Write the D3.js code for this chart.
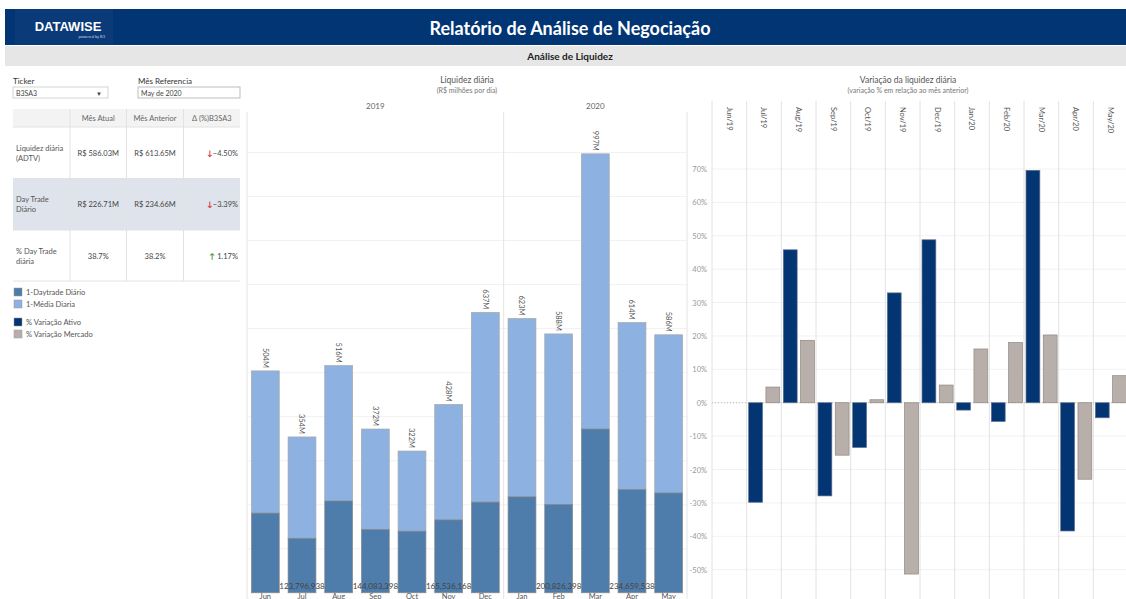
<!DOCTYPE html>
<html>
<head>
<meta charset="utf-8">
<script src="https://cdn.jsdelivr.net/npm/d3@7"></script>
<style>
  body { margin: 0; background: #fff; }
  svg text { font-family: Lato, "Open Sans", sans-serif; }
</style>
</head>
<body>
<div id="board"></div>
<script>
// chart data
const months = ["Jun", "Jul", "Aug", "Sep", "Oct", "Nov", "Dec", "Jan", "Feb", "Mar", "Apr", "May"]
const years = [2019, 2019, 2019, 2019, 2019, 2019, 2019, 2020, 2020, 2020, 2020, 2020]
const yearLabels = ["2019", "2020"]
const mediaDiaria = [504e6, 354e6, 516e6, 372e6, 322e6, 428e6, 637e6, 623e6, 588e6, 997e6, 614e6, 586.03e6]
const dayTrade = [181e6, 123796938, 208.5e6, 144083398, 140e6, 165536168, 206e6, 218e6, 200826398, 372e6, 234659538, 226.71e6]
const varLabels = ["Jun/19", "Jul/19", "Aug/19", "Sep/19", "Oct/19", "Nov/19", "Dec/19", "Jan/20", "Feb/20", "Mar/20", "Apr/20", "May/20"]
const varAtivo = [null, -29.8, 45.8, -27.9, -13.4, 32.9, 48.8, -2.2, -5.6, 69.6, -38.4, -4.5]
const varMercado = [null, 4.7, 18.7, -15.7, 0.9, -51.3, 5.3, 16.1, 18.0, 20.3, -22.9, 8.1]
const pctTicks = [-60, -50, -40, -30, -20, -10, 0, 10, 20, 30, 40, 50, 60, 70]
const liqTicks = [100, 200, 300, 400, 500, 600, 700, 800, 900, 1000]

const tableHead = ["Mês Atual", "Mês Anterior", "Δ (%)B3SA3"]
const tableRows = [
    { label: ["Liquidez diária", "(ADTV)"], atual: "R$ 586.03M", anterior: "R$ 613.65M", delta: -4.50 },
    { label: ["Day Trade", "Diário"], atual: "R$ 226.71M", anterior: "R$ 234.66M", delta: -3.39 },
    { label: ["% Day Trade", "diária"], atual: "38.7%", anterior: "38.2%", delta: 1.17 }
]
const legendItems = [
    { name: "1-Daytrade Diário", color: "#4e7cab" },
    { name: "1-Média Diaria", color: "#8db1e0" },
    { name: "% Variação Ativo", color: "#033572" },
    { name: "% Variação Mercado", color: "#b8afaa" }
]

const board = d3.select("#board")
    .append("svg")
    .attr("width", 1126)
    .attr("height", 599)

// ---- header banners
board.append("rect")
    .attr("x", 5).attr("y", 9).attr("width", 1121).attr("height", 36)
    .attr("fill", "#023574")
board.append("rect")
    .attr("x", 15).attr("y", 9).attr("width", 98).attr("height", 36)
    .attr("fill", "#0a3a78")
board.append("text")
    .attr("x", 68).attr("y", 31)
    .attr("text-anchor", "middle")
    .style("font-family", "'Liberation Sans', Arial, sans-serif")
    .style("font-weight", "bold")
    .style("font-size", "13px")
    .attr("fill", "#fff")
    .text("DATAWISE")
board.append("text")
    .attr("x", 105).attr("y", 38)
    .attr("text-anchor", "end")
    .style("font-size", "4px")
    .attr("fill", "#c8d3e6")
    .text("powered by B3")
board.append("text")
    .attr("x", 570).attr("y", 35)
    .attr("text-anchor", "middle")
    .style("font-weight", "bold")
    .style("font-size", "18px")
    .attr("fill", "#fff")
    .text("Relatório de Análise de Negociação")

board.append("rect")
    .attr("x", 5).attr("y", 46).attr("width", 1121).attr("height", 20)
    .attr("fill", "#e6e6e6")
board.append("text")
    .attr("x", 570).attr("y", 60)
    .attr("text-anchor", "middle")
    .style("font-weight", "bold")
    .style("font-size", "10px")
    .attr("fill", "#222")
    .text("Análise de Liquidez")

// ---- filters
board.append("text").attr("x", 13).attr("y", 84)
    .style("font-size", "8px").attr("fill", "#333").text("Ticker")
board.append("rect").attr("x", 13).attr("y", 87).attr("width", 95).attr("height", 11)
    .attr("fill", "#fff").attr("stroke", "#d4d4d4")
board.append("text").attr("x", 16).attr("y", 95.5)
    .style("font-size", "7px").attr("fill", "#444").text("B3SA3")
board.append("text").attr("x", 99).attr("y", 95.5).attr("text-anchor", "middle")
    .style("font-size", "6px").attr("fill", "#444").text("▼")

board.append("text").attr("x", 138).attr("y", 84)
    .style("font-size", "8px").attr("fill", "#333").text("Mês Referencia")
board.append("rect").attr("x", 138).attr("y", 87).attr("width", 102).attr("height", 11)
    .attr("fill", "#fff").attr("stroke", "#bdbdbd")
board.append("text").attr("x", 141).attr("y", 95.5)
    .style("font-size", "7px").attr("fill", "#444").text("May de 2020")

// ---- KPI table
const colX = [13, 70, 126.5, 183.5, 240]
const rowY = [109, 127, 178.5, 230, 281]

board.append("rect").attr("x", 13).attr("y", rowY[0]).attr("width", 227).attr("height", rowY[1] - rowY[0])
    .attr("fill", "#f3f3f3")
board.append("rect").attr("x", 13).attr("y", rowY[2]).attr("width", 227).attr("height", rowY[3] - rowY[2])
    .attr("fill", "#dfe3ec")

for (let i = 1; i < colX.length - 1; i++) {
    board.append("line")
        .attr("x1", colX[i]).attr("x2", colX[i])
        .attr("y1", rowY[0]).attr("y2", rowY[4])
        .attr("stroke", "#e2e2e2")
}
for (let j = 1; j < rowY.length; j++) {
    board.append("line")
        .attr("x1", 13).attr("x2", 240)
        .attr("y1", rowY[j]).attr("y2", rowY[j])
        .attr("stroke", "#e2e2e2")
}

tableHead.forEach((h, i) => {
    board.append("text")
        .attr("x", (colX[i + 1] + colX[i + 2]) / 2).attr("y", rowY[0] + 12)
        .attr("text-anchor", "middle")
        .style("font-size", "7.5px").attr("fill", "#666")
        .text(h)
})

tableRows.forEach((r, i) => {
    const mid = (rowY[i + 1] + rowY[i + 2]) / 2
    r.label.forEach((l, k) => {
        board.append("text")
            .attr("x", 16).attr("y", mid - 2 + k * 10)
            .style("font-size", "7.5px").attr("fill", "#555")
            .text(l)
    })
    board.append("text")
        .attr("x", (colX[1] + colX[2]) / 2).attr("y", mid + 3)
        .attr("text-anchor", "middle")
        .style("font-size", "7.5px").attr("fill", "#444")
        .text(r.atual)
    board.append("text")
        .attr("x", (colX[2] + colX[3]) / 2).attr("y", mid + 3)
        .attr("text-anchor", "middle")
        .style("font-size", "7.5px").attr("fill", "#444")
        .text(r.anterior)
    const dt = board.append("text")
        .attr("x", 238).attr("y", mid + 3)
        .attr("text-anchor", "end")
        .style("font-size", "7.5px").attr("fill", "#444")
    dt.append("tspan")
        .attr("fill", r.delta < 0 ? "#d62728" : "#3a8a2e")
        .style("font-weight", "bold")
        .text(r.delta < 0 ? "↓" : "↑")
    dt.append("tspan")
        .text((r.delta < 0 ? "" : " ") + d3.format(".2f")(r.delta) + "%")
})

// ---- legend
legendItems.forEach((d, i) => {
    const y = 288 + i * 12 + (i > 1 ? 6 : 0)
    board.append("rect")
        .attr("x", 14).attr("y", y).attr("width", 8).attr("height", 8)
        .attr("fill", d.color).attr("stroke", "#999").attr("stroke-width", 0.5)
    board.append("text")
        .attr("x", 26).attr("y", y + 7)
        .style("font-size", "7.5px").attr("fill", "#555")
        .text(d.name)
})

// ---- Liquidez diária (stacked bars)
const liqLeft = 247, liqRight = 687, liqTop = 112
const x = d3.scaleBand()
    .domain(months.map((m, i) => i))
    .range([liqLeft, liqRight])
    .paddingInner(0.24)
    .paddingOuter(0.12)
const y = d3.scaleLinear()
    .domain([0, 1092])
    .range([592.8, liqTop])

board.append("text").attr("x", 467).attr("y", 83).attr("text-anchor", "middle")
    .style("font-size", "8.5px").attr("fill", "#555").text("Liquidez diária")
board.append("text").attr("x", 467).attr("y", 93).attr("text-anchor", "middle")
    .style("font-size", "7px").attr("fill", "#777").text("(R$ milhões por dia)")

board.append("g")
    .selectAll("line")
    .data(liqTicks)
    .join("line")
    .attr("x1", liqLeft).attr("x2", liqRight)
    .attr("y1", d => y(d)).attr("y2", d => y(d))
    .attr("stroke", "#f1f1f1")

// year panes
const firstOfYear = yearLabels.map(yr => years.indexOf(+yr))
const paneEdges = [...firstOfYear.map(i => x(i) - x.step() * x.paddingInner() / 2), liqRight]
paneEdges[0] = liqLeft
paneEdges.forEach(px => {
    board.append("line")
        .attr("x1", px).attr("x2", px)
        .attr("y1", liqTop).attr("y2", 599)
        .attr("stroke", "#e4e4e4")
})
yearLabels.forEach((yr, i) => {
    board.append("text")
        .attr("x", (paneEdges[i] + paneEdges[i + 1]) / 2).attr("y", 109)
        .attr("text-anchor", "middle")
        .style("font-size", "8px").attr("fill", "#666")
        .text(yr)
})

const mil = v => v / 1e6

board.append("g")
    .selectAll("rect")
    .data(months.map((m, i) => i))
    .join("rect")
    .attr("x", i => x(i))
    .attr("width", x.bandwidth())
    .attr("y", i => y(mil(mediaDiaria[i])))
    .attr("height", i => y(mil(dayTrade[i])) - y(mil(mediaDiaria[i])))
    .attr("fill", "#8db1e0")
    .attr("stroke", "#a9a9a9")
    .attr("stroke-width", 0.7)

board.append("g")
    .selectAll("rect")
    .data(months.map((m, i) => i))
    .join("rect")
    .attr("x", i => x(i))
    .attr("width", x.bandwidth())
    .attr("y", i => y(mil(dayTrade[i])))
    .attr("height", i => y(0) - y(mil(dayTrade[i])))
    .attr("fill", "#4e7cab")
    .attr("stroke", "#8a8a8a")
    .attr("stroke-width", 0.7)

// total labels, rotated
months.forEach((m, i) => {
    const cx = x(i) + x.bandwidth() / 2
    board.append("text")
        .attr("transform", "translate(" + cx + "," + (y(mil(mediaDiaria[i])) - 3) + ") rotate(90)")
        .attr("text-anchor", "end")
        .attr("dy", "0.35em")
        .style("font-size", "7.5px").attr("fill", "#555")
        .text(Math.round(mil(mediaDiaria[i])) + "M")
})

// day trade labels: every other bar inside each year (the rest overlap)
months.forEach((m, i) => {
    const pos = i - years.indexOf(years[i])
    if (pos % 2 !== 1) return
    board.append("text")
        .attr("x", x(i) + x.bandwidth() / 2).attr("y", 589)
        .attr("text-anchor", "middle")
        .style("font-size", "8px").attr("fill", "#444")
        .text(d3.format(",")(Math.round(dayTrade[i])))
})

months.forEach((m, i) => {
    board.append("text")
        .attr("x", x(i) + x.bandwidth() / 2).attr("y", 598.5)
        .attr("text-anchor", "middle")
        .style("font-size", "7.5px").attr("fill", "#555")
        .text(m)
})

// ---- Variação da liquidez diária
const varLeft = 712, varStep = 34.67, varTop = 101
const cx2 = d3.scaleBand()
    .domain(varLabels)
    .range([varLeft, varLeft + varStep * varLabels.length])
const sub = d3.scaleBand()
    .domain(["ativo", "mercado"])
    .range([2, varStep - 1.6])
    .paddingInner(0.2)
const yv = d3.scaleLinear()
    .domain([-60, 70])
    .range([603.1, 169])

board.append("text").attr("x", 908).attr("y", 83).attr("text-anchor", "middle")
    .style("font-size", "8.5px").attr("fill", "#555").text("Variação da liquidez diária")
board.append("text").attr("x", 908).attr("y", 93).attr("text-anchor", "middle")
    .style("font-size", "7px").attr("fill", "#777").text("(variação % em relação ao mês anterior)")

board.append("g")
    .selectAll("line")
    .data(pctTicks)
    .join("line")
    .attr("x1", varLeft).attr("x2", 1126)
    .attr("y1", d => yv(d)).attr("y2", d => yv(d))
    .attr("stroke", "#f2f2f2")

board.append("g")
    .selectAll("text")
    .data(pctTicks.filter(d => yv(d) + 3 <= 599))
    .join("text")
    .attr("x", 707).attr("y", d => yv(d) + 3)
    .attr("text-anchor", "end")
    .style("font-size", "7.5px").attr("fill", "#999")
    .text(d => d + "%")

varLabels.forEach(l => {
    board.append("line")
        .attr("x1", cx2(l)).attr("x2", cx2(l))
        .attr("y1", varTop).attr("y2", 599)
        .attr("stroke", "#e2e2e2")
    board.append("text")
        .attr("transform", "translate(" + (cx2(l) + varStep / 2) + ",107) rotate(90)")
        .attr("dy", "0.35em")
        .style("font-size", "7.5px").attr("fill", "#555")
        .text(l)
})

board.append("line")
    .attr("x1", varLeft).attr("x2", 1126)
    .attr("y1", yv(0)).attr("y2", yv(0))
    .attr("stroke", "#bbb").attr("stroke-dasharray", "1,2")

const varData = []
varLabels.forEach((l, i) => {
    if (varAtivo[i] !== null) varData.push({ m: l, k: "ativo", v: varAtivo[i] })
    if (varMercado[i] !== null) varData.push({ m: l, k: "mercado", v: varMercado[i] })
})

board.append("g")
    .selectAll("rect")
    .data(varData)
    .join("rect")
    .attr("x", d => cx2(d.m) + sub(d.k))
    .attr("width", sub.bandwidth())
    .attr("y", d => yv(Math.max(0, d.v)))
    .attr("height", d => Math.abs(yv(d.v) - yv(0)))
    .attr("fill", d => d.k === "ativo" ? "#033572" : "#b8afaa")
    .attr("stroke", d => d.k === "ativo" ? "#5a6f8f" : "#8e8783")
    .attr("stroke-width", 0.7)
</script>
</body>
</html>
